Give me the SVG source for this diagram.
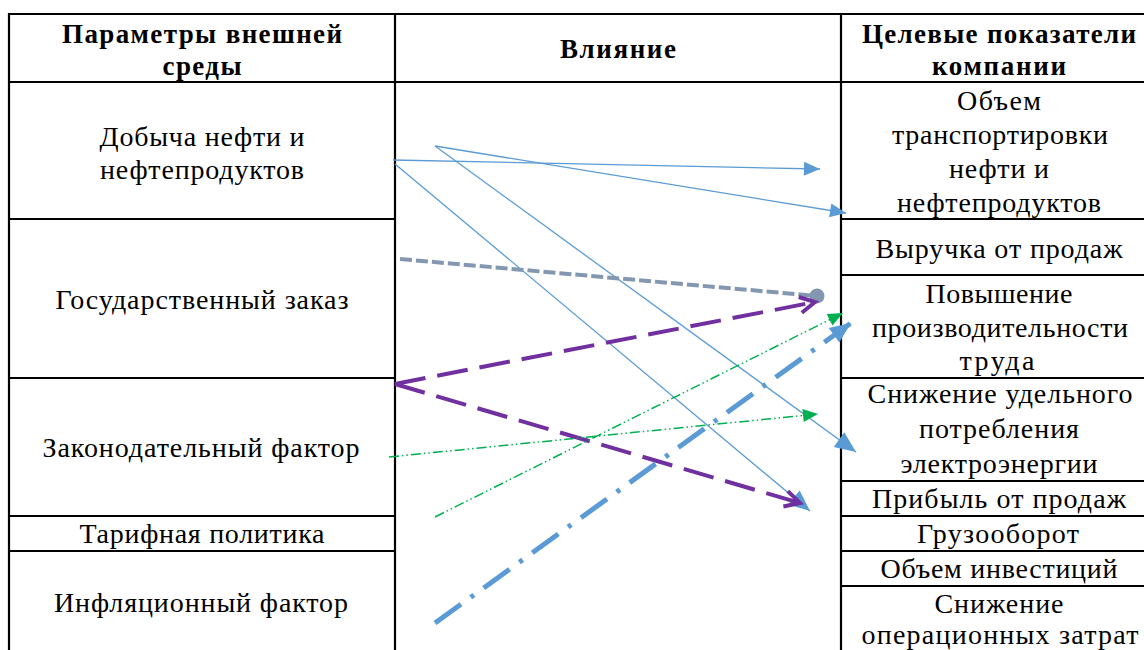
<svg xmlns="http://www.w3.org/2000/svg" width="1144" height="650" viewBox="0 0 1144 650">
<style>
.grid{stroke:#000;stroke-width:2.2;fill:none}
.t{font-family:"Liberation Serif","Times New Roman",serif;font-size:28px;fill:#000;text-anchor:middle}
.h{font-family:"Liberation Serif","Times New Roman",serif;font-size:27px;font-weight:bold;fill:#000;text-anchor:middle}
.bthin{stroke:#5B9BD5;stroke-width:1.3;fill:none}
.gray{stroke:#8497B0;stroke-width:4;stroke-dasharray:12 4;fill:none}
.purple{stroke:#7030A0;stroke-width:4;stroke-dasharray:31 12;fill:none}
.green{stroke:#00B050;stroke-width:1.5;stroke-dasharray:10 3 1.5 3 1.5 3;fill:none}
.bthick{stroke:#5B9BD5;stroke-width:5;stroke-dasharray:32 12 4 12;fill:none}
</style>
<defs>
<marker id="aBlue" markerUnits="userSpaceOnUse" markerWidth="17" markerHeight="15" refX="16" refY="7" orient="auto" overflow="visible"><path d="M0,0 L16,7 L0,14 z" fill="#5B9BD5"/></marker>
<marker id="aBlueL" markerUnits="userSpaceOnUse" markerWidth="22" markerHeight="19" refX="21" refY="9" orient="auto" overflow="visible"><path d="M0,0 L21,9 L0,18 z" fill="#5B9BD5"/></marker>
<marker id="aGreen" markerUnits="userSpaceOnUse" markerWidth="16" markerHeight="14" refX="15" refY="6.5" orient="auto" overflow="visible"><path d="M0,0 L15,6.5 L0,13 z" fill="#00B050"/></marker>
<marker id="aPurple" markerUnits="userSpaceOnUse" markerWidth="20" markerHeight="20" refX="16" refY="8" orient="auto" overflow="visible"><path d="M1,0 L16,8 L1,16" fill="none" stroke="#7030A0" stroke-width="4" stroke-linejoin="miter"/></marker>
<marker id="dotGray" markerUnits="userSpaceOnUse" markerWidth="16" markerHeight="16" refX="8" refY="8" orient="auto" overflow="visible"><circle cx="8" cy="8" r="7.5" fill="#8497B0"/></marker>
</defs>
<rect width="1144" height="650" fill="#fff"/>
<g id="grid" class="grid">
<line x1="8" y1="14" x2="1144" y2="14"/>
<line x1="8" y1="82" x2="1144" y2="82"/>
<line x1="9" y1="13" x2="9" y2="650"/>
<line x1="395" y1="13" x2="395" y2="650"/>
<line x1="841" y1="13" x2="841" y2="650"/>
<line x1="9" y1="219" x2="395" y2="219"/>
<line x1="9" y1="378" x2="395" y2="378"/>
<line x1="9" y1="516" x2="395" y2="516"/>
<line x1="9" y1="551" x2="395" y2="551"/>
<line x1="841" y1="219" x2="1144" y2="219"/>
<line x1="841" y1="275" x2="1144" y2="275"/>
<line x1="841" y1="378" x2="1144" y2="378"/>
<line x1="841" y1="481" x2="1144" y2="481"/>
<line x1="841" y1="516" x2="1144" y2="516"/>
<line x1="841" y1="551" x2="1144" y2="551"/>
<line x1="841" y1="586" x2="1144" y2="586"/>
</g>
<g id="hdr-params"><text class="h" x="202" y="43" textLength="280">Параметры внешней</text><text class="h" x="202" y="75" textLength="79">среды</text></g>
<g id="hdr-influence"><text class="h" x="618" y="58" textLength="116">Влияние</text></g>
<g id="hdr-targets"><text class="h" x="999" y="43" textLength="274">Целевые показатели</text><text class="h" x="999" y="75" textLength="134">компании</text></g>
<g id="p-oil"><text class="t" x="202" y="146" textLength="205">Добыча нефти и</text><text class="t" x="202" y="179" textLength="204">нефтепродуктов</text></g>
<g id="p-gov"><text class="t" x="202" y="309" textLength="293">Государственный заказ</text></g>
<g id="p-law"><text class="t" x="201" y="457" textLength="317">Законодательный фактор</text></g>
<g id="p-tariff"><text class="t" x="202" y="543" textLength="245">Тарифная политика</text></g>
<g id="p-infl"><text class="t" x="201" y="612" textLength="294">Инфляционный фактор</text></g>
<g id="k-volume"><text class="t" x="999" y="110" textLength="84">Объем</text><text class="t" x="1000" y="144" textLength="216">транспортировки</text><text class="t" x="999" y="178" textLength="100">нефти и</text><text class="t" x="999" y="212" textLength="204">нефтепродуктов</text></g>
<g id="k-revenue"><text class="t" x="999" y="258" textLength="247">Выручка от продаж</text></g>
<g id="k-productivity"><text class="t" x="999" y="303" textLength="147">Повышение</text><text class="t" x="1000" y="337" textLength="256">производительности</text><text class="t" x="997" y="370" textLength="75">труда</text></g>
<g id="k-energy"><text class="t" x="1000" y="403" textLength="265">Снижение удельного</text><text class="t" x="999" y="438" textLength="160">потребления</text><text class="t" x="999" y="473" textLength="197">электроэнергии</text></g>
<g id="k-profit"><text class="t" x="999" y="508" textLength="254">Прибыль от продаж</text></g>
<g id="k-freight"><text class="t" x="998" y="543" textLength="162">Грузооборот</text></g>
<g id="k-invest"><text class="t" x="999" y="578" textLength="237">Объем инвестиций</text></g>
<g id="k-opex"><text class="t" x="999" y="613" textLength="129">Снижение</text><text class="t" x="1000" y="644" textLength="277">операционных затрат</text></g>
<g id="connectors">
<line class="bthin" x1="393" y1="160" x2="820" y2="169" marker-end="url(#aBlue)"/>
<line class="bthin" x1="435" y1="146" x2="846" y2="213" marker-end="url(#aBlue)"/>
<line class="bthin" x1="435" y1="146" x2="856" y2="452" marker-end="url(#aBlueL)"/>
<line class="bthin" x1="395" y1="164" x2="810" y2="511" marker-end="url(#aBlueL)"/>
<line class="gray" x1="400" y1="259" x2="817" y2="296" marker-end="url(#dotGray)"/>
<line class="purple" x1="395" y1="384" x2="815" y2="302" marker-end="url(#aPurple)"/>
<line class="purple" x1="395" y1="384" x2="800" y2="503" marker-end="url(#aPurple)"/>
<line class="green" x1="389" y1="457" x2="818" y2="414" marker-end="url(#aGreen)"/>
<line class="green" x1="435" y1="517" x2="843" y2="313" marker-end="url(#aGreen)"/>
<line class="bthick" x1="435" y1="623" x2="851" y2="323" marker-end="url(#aBlueL)"/>
</g>
</svg>
